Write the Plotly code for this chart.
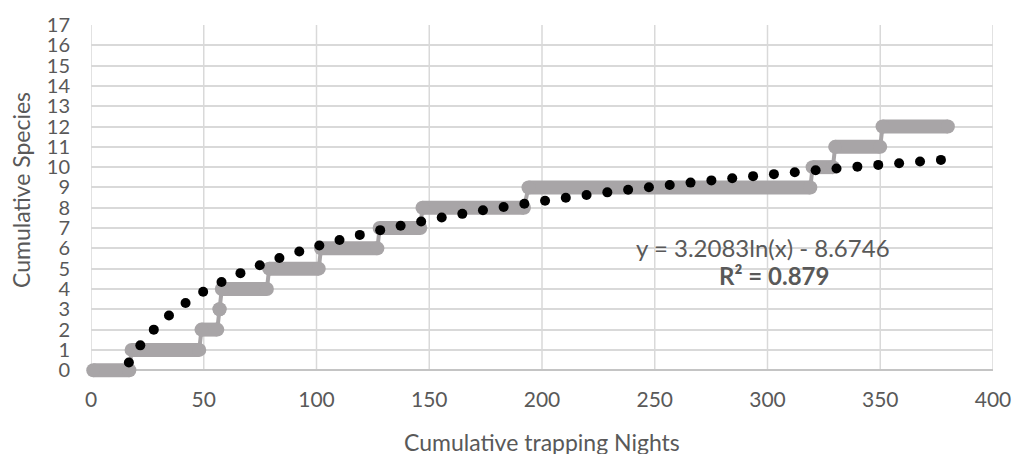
import numpy as np
import plotly.graph_objects as go

# ---- data ----
STEP_START = [1, 18, 49, 57, 58, 79, 102, 128, 147, 194, 320, 330, 351]
STEP_END = [17, 48, 56, 57, 78, 101, 127, 146, 192, 319, 329, 350, 380]
SPECIES = [0, 1, 2, 3, 4, 5, 6, 7, 8, 9, 10, 11, 12]

TREND_A = 3.2083
TREND_B = -8.6746
R2 = 0.879

X_TICKS = [0, 50, 100, 150, 200, 250, 300, 350, 400]
Y_TICKS = list(range(0, 18))

# ---- style ----
GRAY = "#a8a5a7"
GRID = "#d9d9d9"
TXT = "#595959"
FONT = "Lato"

W, H = 1023, 454
ML, MR, MT, MB = 91, 28, 17, 75
PW = W - ML - MR
PH = H - MT - MB
SY = 353 / 17.0
YMIN = 17 - PH / SY
SX = PW / 400.0

fig = go.Figure()

# thin connecting step path
px_, py_ = [], []
for s, e, y in zip(STEP_START, STEP_END, SPECIES):
    px_ += [s, e]
    py_ += [y, y]
fig.add_trace(go.Scatter(x=px_, y=py_, mode="lines",
                         line=dict(color=GRAY, width=4), hoverinfo="skip",
                         showlegend=False))

# thick horizontal bands with round ends
bx, by = [], []
for s, e, y in zip(STEP_START, STEP_END, SPECIES):
    bx += [s, e, None]
    by += [y, y, None]
fig.add_trace(go.Scatter(x=bx, y=by, mode="lines+markers",
                         line=dict(color=GRAY, width=14),
                         marker=dict(color=GRAY, size=14),
                         showlegend=False, cliponaxis=False))

# logarithmic trendline drawn as round dots evenly spaced along the curve
xf = np.linspace(16.8, STEP_END[-1], 6000)
yf = TREND_A * np.log(xf) + TREND_B
d = np.concatenate([[0], np.cumsum(np.hypot(np.diff(xf) * SX, np.diff(yf) * SY))])
targets = np.arange(0, d[-1], 21.0)
tx = np.interp(targets, d, xf)
ty = TREND_A * np.log(tx) + TREND_B
fig.add_trace(go.Scatter(x=tx, y=ty, mode="markers",
                         marker=dict(color="black", size=10),
                         showlegend=False, cliponaxis=False))

# vertical gridlines
shapes = []
for xv in X_TICKS:
    shapes.append(dict(type="line", xref="x", yref="y", x0=xv, x1=xv, y0=0, y1=17,
                       line=dict(color=GRID, width=1.5), layer="below"))

fig.update_layout(
    width=W, height=H,
    margin=dict(l=ML, r=MR, t=MT, b=MB, pad=0),
    paper_bgcolor="white", plot_bgcolor="white",
    font=dict(family=FONT, color=TXT),
    shapes=shapes,
    xaxis=dict(range=[0, 400], tickvals=X_TICKS, showgrid=False, zeroline=False,
               showline=False, ticks="outside", ticklen=2, tickcolor="rgba(0,0,0,0)",
               tickfont=dict(size=21, color=TXT, family=FONT), fixedrange=True),
    yaxis=dict(range=[YMIN, 17], tickvals=Y_TICKS, showgrid=True, gridcolor=GRID,
               gridwidth=1.5, zeroline=True, zerolinecolor="#c4c4c4", zerolinewidth=1.5,
               showline=False, ticks="outside", ticklen=16, tickcolor="rgba(0,0,0,0)",
               tickfont=dict(size=20, color=TXT, family=FONT), fixedrange=True),
    annotations=[
        dict(text="Cumulative Species", xref="paper", yref="paper", x=0, y=0.5,
             xanchor="center", yanchor="middle", xshift=-70, yshift=12, textangle=-90,
             showarrow=False, font=dict(size=23, color=TXT, family=FONT)),
        dict(text="Cumulative trapping Nights", xref="paper", yref="paper", x=0.5, y=0,
             xanchor="center", yanchor="middle", yshift=-63,
             showarrow=False, font=dict(size=23, color=TXT, family=FONT)),
        dict(text="y = %.4fln(x) - %.4f" % (TREND_A, -TREND_B), xref="x", yref="y",
             x=298, y=6.05, xanchor="center", yanchor="middle", showarrow=False,
             font=dict(size=24, color=TXT, family=FONT)),
        dict(text="<b>R² = %.3f</b>" % R2, xref="x", yref="y",
             x=303, y=4.65, xanchor="center", yanchor="middle", showarrow=False,
             font=dict(size=24, color=TXT, family=FONT)),
    ],
)

fig.write_html("out.html")
